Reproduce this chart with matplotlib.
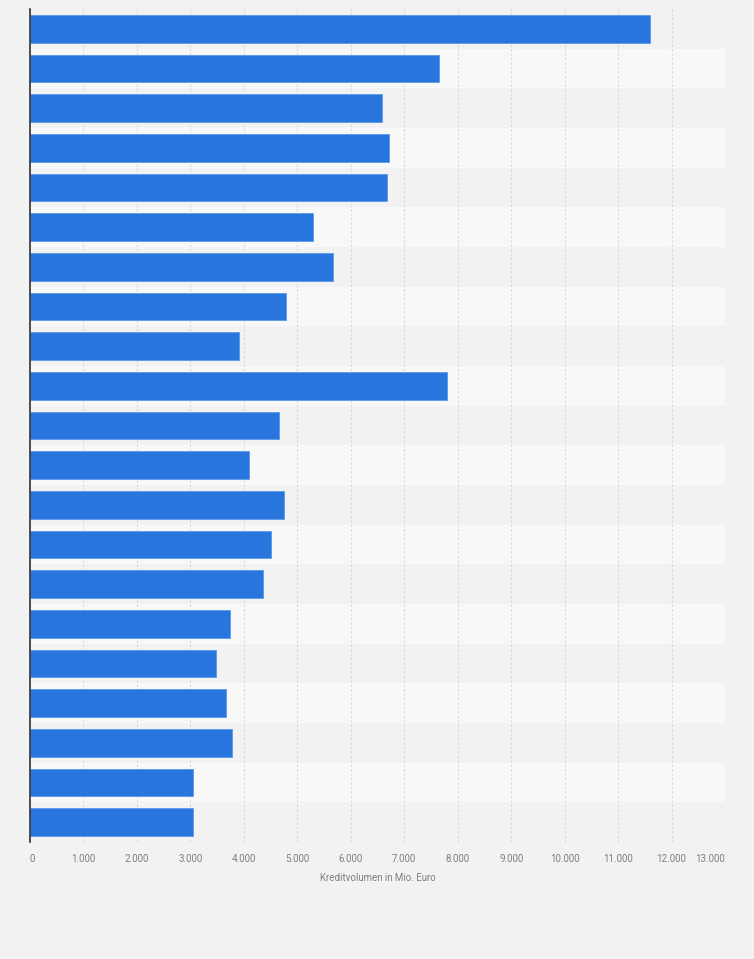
import numpy as np
import matplotlib.pyplot as plt
from matplotlib.ticker import FuncFormatter

plt.rcParams['font.family'] = ['Roboto', 'DejaVu Sans']

# Kreditvolumen in Mio. Euro, top to bottom (no category labels shown)
values = [11590, 7650, 6590, 6720, 6685, 5300, 5675, 4780, 3915, 7795, 4665,
          4100, 4760, 4515, 4365, 3750, 3470, 3675, 3770, 3055, 3055]
xticks = list(range(0, 13001, 1000))
xlabel = 'Kreditvolumen in Mio. Euro'

bg = '#f2f2f2'
stripe = '#f8f8f8'
blue = '#2876dd'
textc = '#7f7f7f'

fig = plt.figure(figsize=(7.54, 9.59), dpi=100, facecolor=bg)
ax = fig.add_axes([30 / 754, 117 / 959, 695 / 754, 833 / 959])
ax.set_facecolor(bg)

n = len(values)
pos = np.arange(n)
for i in pos:
    if i % 2 == 1:
        ax.axhspan(i - 0.5, i + 0.5, color=stripe, zorder=0, lw=0)

ax.barh(pos, values, height=0.7, color=blue, edgecolor='#5a9ae8',
        linewidth=0.6, zorder=3)

ax.set_xlim(0, 13000)
ax.set_ylim(n - 0.5, -0.5)
ax.set_yticks([])
ax.set_xticks(xticks)
ax.xaxis.set_major_formatter(FuncFormatter(lambda v, p: f'{int(v):,}'.replace(',', '.')))
ax.tick_params(axis='x', length=0, pad=9, labelsize=7, labelcolor=textc)
labels = ax.get_xticklabels()
labels[0].set_ha('left')
labels[-1].set_ha('right')
ax.grid(axis='x', color='#d8d8d8', linestyle=(0, (2, 2)), linewidth=0.8, zorder=1)
ax.set_axisbelow(True)

for s in ['top', 'right', 'bottom']:
    ax.spines[s].set_visible(False)
ax.spines['left'].set_color('#333333')
ax.spines['left'].set_linewidth(1.2)
ax.spines['left'].set_zorder(5)

ax.set_xlabel(xlabel, fontsize=7, color=textc, labelpad=6)

fig.savefig('out.png', dpi=100, facecolor=bg)
